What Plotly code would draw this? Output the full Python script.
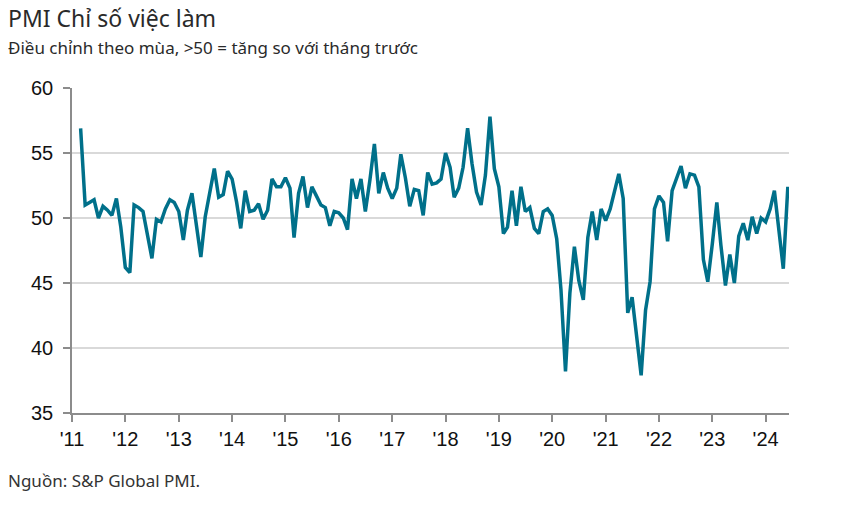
import pandas as pd
import plotly.graph_objects as go

# Monthly PMI employment index, Mar 2011 - Jun 2024
start_month = "2011-03-01"
employment_index = [
    56.9, 51.0, 51.2, 51.4, 50.0, 50.9, 50.6, 50.2, 51.5, 49.3,            # 2011 (Mar-Dec)
    46.2, 45.8, 51.0, 50.8, 50.5, 48.7, 46.9, 49.9, 49.7, 50.7, 51.4, 51.2,  # 2012
    50.5, 48.3, 50.6, 51.9, 49.5, 47.0, 50.1, 52.1, 53.8, 51.6, 51.8, 53.6,  # 2013
    53.0, 51.2, 49.2, 52.1, 50.5, 50.6, 51.1, 49.9, 50.6, 53.0, 52.4, 52.4,  # 2014
    53.1, 52.3, 48.5, 51.9, 53.2, 50.8, 52.4, 51.7, 51.0, 50.8, 49.4, 50.5,  # 2015
    50.4, 50.0, 49.1, 53.0, 51.5, 53.0, 50.5, 52.9, 55.7, 51.9, 53.5, 52.3,  # 2016
    51.5, 52.3, 54.9, 53.1, 50.9, 52.2, 52.1, 50.2, 53.5, 52.6, 52.7, 53.0,  # 2017
    55.0, 53.9, 51.6, 52.3, 53.9, 56.9, 54.2, 52.0, 51.0, 53.3, 57.8, 53.8,  # 2018
    52.4, 48.8, 49.3, 52.1, 49.4, 52.4, 50.5, 50.8, 49.2, 48.8, 50.5, 50.7,  # 2019
    50.2, 48.4, 44.5, 38.2, 44.2, 47.8, 45.2, 43.7, 48.5, 50.5, 48.3, 50.7,  # 2020
    49.8, 50.7, 52.1, 53.4, 51.5, 42.7, 43.9, 41.1, 37.9, 42.9, 45.1, 50.7,  # 2021
    51.7, 51.2, 48.2, 52.1, 53.0, 54.0, 52.3, 53.4, 53.3, 52.4, 46.8, 45.1,  # 2022
    48.0, 51.2, 47.9, 44.8, 47.2, 45.0, 48.6, 49.6, 48.3, 50.1, 48.8, 50.0,  # 2023
    49.7, 50.7, 52.1, 49.0, 46.1, 52.4,                                      # 2024 (Jan-Jun)
]
months = pd.date_range(start_month, periods=len(employment_index), freq="MS")

tick_years = list(range(2011, 2025))
tick_labels = ["'%02d" % (y % 100) for y in tick_years]
tick_dates = [pd.Timestamp(year=y, month=1, day=1) for y in tick_years]
y_ticks = [35, 40, 45, 50, 55, 60]

fig = go.Figure()
fig.add_trace(go.Scatter(
    x=months, y=employment_index, mode="lines",
    line=dict(color="#00708a", width=3.5),
    hoverinfo="x+y", showlegend=False,
))

W, H = 849, 511
ml, mr, mt, mb = 72, 60, 88, 98
pw, ph = W - ml - mr, H - mt - mb

def px_x(px):
    return (px - ml) / pw

def px_y(py):
    return (H - mb - py) / ph

fig.update_layout(
    width=W, height=H, autosize=False,
    margin=dict(l=ml, r=mr, t=mt, b=mb),
    paper_bgcolor="white", plot_bgcolor="white",
    xaxis=dict(
        type="date",
        range=[pd.Timestamp("2011-01-01"), months[-1] + pd.Timedelta(days=8)],
        tickvals=tick_dates, ticktext=tick_labels,
        ticks="outside", ticklen=7, tickcolor="#8c8c8c", tickwidth=1.5,
        showline=True, linecolor="#8c8c8c", linewidth=1.5,
        showgrid=False, zeroline=False,
        tickfont=dict(family="Liberation Sans, Arial", size=20, color="#111111"),
    ),
    yaxis=dict(
        range=[35, 60], tickvals=y_ticks,
        ticks="outside", ticklen=7, tickcolor="#8c8c8c", tickwidth=1.5,
        showline=True, linecolor="#8c8c8c", linewidth=1.5,
        showgrid=True, gridcolor="#d9d9d9", gridwidth=1.5,
        zeroline=False, ticklabelstandoff=6,
        tickfont=dict(family="Liberation Sans, Arial", size=20, color="#111111"),
    ),
    annotations=[
        dict(text="PMI Chỉ số việc làm", xref="paper", yref="paper",
             x=px_x(6), y=px_y(18), xanchor="left", yanchor="middle", showarrow=False,
             font=dict(family="Noto Sans", size=23, color="#2a2a2a")),
        dict(text="Điều chỉnh theo mùa, >50 = tăng so với tháng trước", xref="paper", yref="paper",
             x=px_x(6), y=px_y(47), xanchor="left", yanchor="middle", showarrow=False,
             font=dict(family="Noto Sans", size=17, color="#2a2a2a")),
        dict(text="Nguồn: S&P Global PMI.", xref="paper", yref="paper",
             x=px_x(6), y=px_y(480), xanchor="left", yanchor="middle", showarrow=False,
             font=dict(family="Noto Sans", size=17, color="#333333")),
    ],
)

fig.write_html("out.html")
